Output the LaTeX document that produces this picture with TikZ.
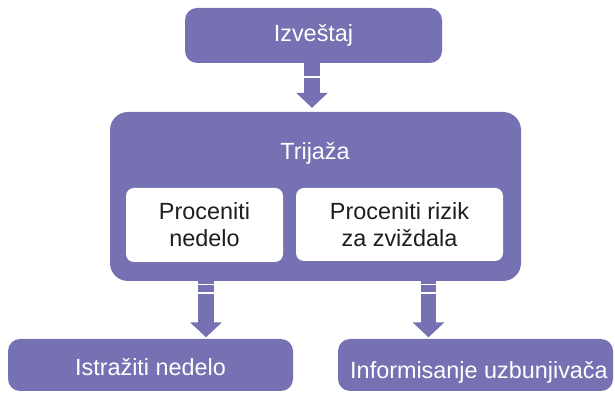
\documentclass[tikz,border=0pt]{standalone}
\usepackage{fontspec}
\setmainfont{Liberation Sans}
\usetikzlibrary{arrows.meta}
\definecolor{lila}{RGB}{118,113,178}
\definecolor{tamno}{RGB}{30,30,30}
\tikzset{
  kutija/.style={fill=lila,text=white,rounded corners=12pt,inner sep=0pt,align=center},
  belo/.style={fill=white,text=tamno,rounded corners=8pt,inner sep=0pt,align=center},
  strela/.style={lila,line width=15.5pt,-{Triangle[width=31pt,length=15pt]}}
}
\begin{document}
\begin{tikzpicture}[x=1pt,y=1pt,font=\fontsize{23.4}{27}\selectfont]
\useasboundingbox (0,0) rectangle (615,393);
\node[kutija,minimum width=257pt,minimum height=55pt](izv)at(313.5,357.5){Izveštaj};
\node[kutija,rounded corners=18pt,minimum width=411pt,minimum height=169pt](tri)at(315.5,196.5){};
\node[text=white](trin)at(315,240){Trijaža};
\node[belo,minimum width=157pt,minimum height=74pt](pn)at(204.5,168){Proceniti\\nedelo};
\node[belo,minimum width=207pt,minimum height=73pt](pr)at(399.5,168.5){Proceniti rizik\\za zviždala};
\node[kutija,minimum width=285pt,minimum height=52pt](ist)at(150.5,28){};
\node[text=white](istn)at(150.5,26){Istražiti nedelo};
\node[kutija,minimum width=275pt,minimum height=52pt](inf)at(475.5,28){};
\node[text=white](infn)at(479,21){Informisanje uzbunjivača};
\coordinate (s1) at (312,0);
\coordinate (s2) at (206,0);
\coordinate (s3) at (428.5,0);
\draw[strela,dash pattern=on 13pt off 2pt on 200pt](izv.south -| s1)--([yshift=4pt]tri.north -| s1);
\draw[strela,dash pattern=on 2.5pt off 1.5pt on 7pt off 1.5pt on 200pt](tri.south -| s2)--([yshift=1.5pt]ist.north -| s2);
\draw[strela,dash pattern=on 2.5pt off 1.5pt on 7pt off 1.5pt on 200pt](tri.south -| s3)--([yshift=1.5pt]inf.north -| s3);
\end{tikzpicture}
\end{document}
